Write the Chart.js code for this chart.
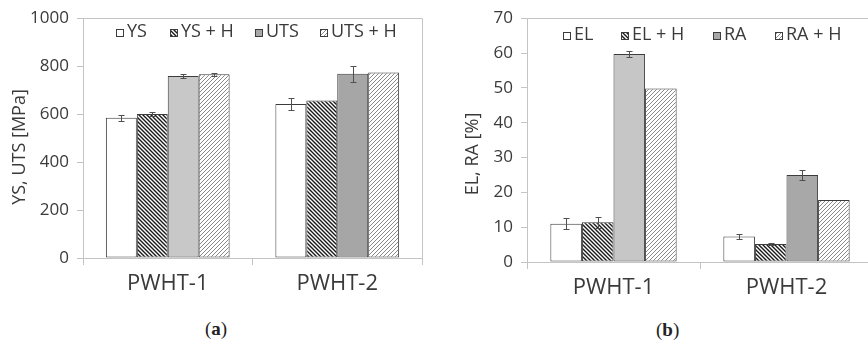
<!DOCTYPE html>
<html lang="en">
<head>
    <meta charset="UTF-8">
    <title>YS/UTS and EL/RA after PWHT</title>
    <script src="https://cdn.jsdelivr.net/npm/chart.js"></script>
    <style>
        html, body {
            margin: 0;
            padding: 0;
            background: #fff;
            overflow: hidden;
        }
        body {
            width: 868px;
            height: 341px;
            position: relative;
        }
        .panel {
            position: absolute;
            top: 0;
            height: 300px;
        }
        #panelA { left: 0; width: 434px; }
        #panelB { left: 434px; width: 445px; }
        .caption {
            position: absolute;
            font-family: "Liberation Serif", serif;
            font-size: 19px;
            color: #222;
        }
        .caption b { font-weight: bold; }
    </style>
</head>
<body>

    <div class="panel" id="panelA"><canvas id="chartA" width="434" height="300"></canvas></div>
    <div class="panel" id="panelB"><canvas id="chartB" width="445" height="300"></canvas></div>

    <div class="caption" style="left:205px; top:318px;">(<b>a</b>)</div>
    <div class="caption" style="left:656px; top:319px;">(<b>b</b>)</div>

    <script>
        // categories
        const categories = ["PWHT-1", "PWHT-2"];

        // (a) strength, MPa
        const ys = [585, 642];
        const ysErr = [12, 24];
        const ysH = [601, 657];
        const ysHErr = [9, 0];
        const uts = [759, 768];
        const utsErr = [8, 34];
        const utsH = [766, 774];
        const utsHErr = [6, 0];

        // (b) ductility, %
        const el = [11.0, 7.3];
        const elErr = [1.6, 0.7];
        const elH = [11.4, 5.2];
        const elHErr = [1.6, 0.2];
        const ra = [59.7, 25.0];
        const raErr = [0.9, 1.5];
        const raH = [49.8, 17.8];
        const raHErr = [0, 0];

        // axis ticks
        const ticksA = [0, 200, 400, 600, 800, 1000];
        const ticksB = [0, 10, 20, 30, 40, 50, 60, 70];

        const TEXT = "#3a3a3a";
        const LINE = "#c4c4c4";
        const EDGE = "#3c3c3c";

        Chart.defaults.font.family = "'Open Sans', sans-serif";
        Chart.defaults.color = TEXT;

        // diagonal hatch fills
        function hatch(stroke, dir, size, lw) {
            const c = document.createElement("canvas");
            c.width = c.height = size;
            const g = c.getContext("2d");
            g.fillStyle = "#fff";
            g.fillRect(0, 0, size, size);
            g.strokeStyle = stroke;
            g.lineWidth = lw;
            g.beginPath();
            if (dir === "\\") {
                g.moveTo(-1, -1); g.lineTo(size + 1, size + 1);
                g.moveTo(-1, size - 1); g.lineTo(1, size + 1);
                g.moveTo(size - 1, -1); g.lineTo(size + 1, 1);
            } else {
                g.moveTo(-1, size + 1); g.lineTo(size + 1, -1);
                g.moveTo(-1, 1); g.lineTo(1, -1);
                g.moveTo(size - 1, size + 1); g.lineTo(size + 1, size - 1);
            }
            g.stroke();
            return g.createPattern(c, "repeat");
        }

        const darkHatch = hatch("#1a1a1a", "\\", 4, 1.4);
        const lightHatch = hatch("#8a8a8a", "/", 4, 1);

        // error bars, drawn through the y scale
        const errorBars = {
            id: "errorBars",
            afterDatasetsDraw(chart) {
                const ctx = chart.ctx;
                const y = chart.scales.y;
                ctx.save();
                ctx.strokeStyle = "#505050";
                ctx.lineWidth = 1;
                chart.data.datasets.forEach((ds, i) => {
                    const meta = chart.getDatasetMeta(i);
                    meta.data.forEach((bar, j) => {
                        const e = ds.errors[j];
                        if (!e) return;
                        const v = ds.data[j];
                        const top = Math.round(y.getPixelForValue(v + e)) + 0.5;
                        const bot = Math.round(y.getPixelForValue(v - e)) + 0.5;
                        const x = Math.round(bar.x) + 0.5;
                        ctx.beginPath();
                        ctx.moveTo(x, top); ctx.lineTo(x, bot);
                        ctx.moveTo(x - 3, top); ctx.lineTo(x + 3, top);
                        ctx.moveTo(x - 3, bot); ctx.lineTo(x + 3, bot);
                        ctx.stroke();
                    });
                });
                ctx.restore();
            }
        };

        // plot frame (top and right sides)
        const frame = {
            id: "frame",
            beforeDatasetsDraw(chart) {
                const a = chart.chartArea;
                const ctx = chart.ctx;
                ctx.save();
                ctx.strokeStyle = LINE;
                ctx.lineWidth = 1;
                ctx.beginPath();
                ctx.moveTo(Math.round(a.left) + 0.5, Math.round(a.top) + 0.5);
                ctx.lineTo(Math.round(a.right) + 0.5, Math.round(a.top) + 0.5);
                ctx.lineTo(Math.round(a.right) + 0.5, Math.round(a.bottom) + 0.5);
                ctx.stroke();
                ctx.restore();
            }
        };

        // legend inside the plot, one row, each item at its own x
        const innerLegend = {
            id: "innerLegend",
            afterDraw(chart, args, opts) {
                const ctx = chart.ctx;
                ctx.save();
                ctx.font = "18px 'Open Sans', sans-serif";
                ctx.textBaseline = "alphabetic";
                chart.data.datasets.forEach((ds, i) => {
                    const b = 8;
                    const x = opts.xs[i];
                    ctx.fillStyle = ds.legendFill;
                    ctx.fillRect(x, opts.y - b, b, b);
                    ctx.strokeStyle = EDGE;
                    ctx.lineWidth = 1;
                    ctx.strokeRect(x + 0.5, opts.y - b + 0.5, b - 1, b - 1);
                    ctx.fillStyle = TEXT;
                    ctx.fillText(ds.label, x + b + 3, opts.y);
                });
                ctx.restore();
            }
        };

        // rotated y axis title
        const yTitle = {
            id: "yTitle",
            afterDraw(chart, args, opts) {
                const ctx = chart.ctx;
                ctx.save();
                ctx.translate(opts.x, opts.y);
                ctx.rotate(-Math.PI / 2);
                ctx.font = "18px 'Open Sans', sans-serif";
                ctx.fillStyle = TEXT;
                ctx.textAlign = "center";
                ctx.textBaseline = "middle";
                ctx.fillText(opts.text, 0, 0);
                ctx.restore();
            }
        };

        function makeDatasets(names, values, errors, fills, legendFills) {
            return names.map((n, i) => ({
                label: n,
                data: values[i],
                errors: errors[i],
                backgroundColor: fills[i],
                legendFill: legendFills[i],
                borderColor: EDGE,
                borderWidth: 1,
                borderSkipped: false,
                categoryPercentage: 0.73,
                barPercentage: 1.0
            }));
        }

        function makeChart(id, datasets, maxY, tickList, yWidth, xHeight, pad, legend, title) {
            return new Chart(document.getElementById(id), {
                type: "bar",
                data: { labels: categories, datasets: datasets },
                options: {
                    responsive: false,
                    animation: false,
                    layout: { padding: pad },
                    scales: {
                        x: {
                            grid: {
                                offset: true,
                                drawOnChartArea: false,
                                drawTicks: true,
                                tickLength: 7,
                                color: LINE
                            },
                            border: { display: true, color: LINE },
                            ticks: { font: { size: 22 }, padding: 6, color: TEXT },
                            afterFit: s => { s.height = xHeight; }
                        },
                        y: {
                            min: 0,
                            max: maxY,
                            afterBuildTicks: s => { s.ticks = tickList.map(v => ({ value: v })); },
                            grid: {
                                drawOnChartArea: false,
                                drawTicks: true,
                                tickLength: 6,
                                color: LINE
                            },
                            border: { display: true, color: LINE },
                            ticks: {
                                font: { size: 17 },
                                padding: 8,
                                color: TEXT,
                                callback: v => String(v)
                            },
                            afterFit: s => { s.width = yWidth; }
                        }
                    },
                    plugins: {
                        legend: { display: false },
                        tooltip: { enabled: false },
                        innerLegend: legend,
                        yTitle: title
                    }
                },
                plugins: [frame, errorBars, innerLegend, yTitle]
            });
        }

        makeChart("chartA",
            makeDatasets(["YS", "YS + H", "UTS", "UTS + H"],
                [ys, ysH, uts, utsH],
                [ysErr, ysHErr, utsErr, utsHErr],
                ["#ffffff", darkHatch, ["#c8c8c8", "#a6a6a6"], lightHatch],
                ["#ffffff", darkHatch, "#a8a8a8", lightHatch]),
            1000, ticksA, 83, 42, { top: 16, right: 12, left: 0, bottom: 0 },
            { xs: [116, 170, 255, 320], y: 37 },
            { text: "YS, UTS [MPa]", x: 20, y: 147 });

        makeChart("chartB",
            makeDatasets(["EL", "EL + H", "RA", "RA + H"],
                [el, elH, ra, raH],
                [elErr, elHErr, raErr, raHErr],
                ["#ffffff", darkHatch, ["#c6c6c6", "#a8a8a8"], lightHatch],
                ["#ffffff", darkHatch, "#a8a8a8", lightHatch]),
            70, ticksB, 93, 38, { top: 17, right: 6, left: 0, bottom: 0 },
            { xs: [129, 187, 279, 341], y: 40 },
            { text: "EL, RA [%]", x: 39, y: 154 });
    </script>

</body>
</html>
